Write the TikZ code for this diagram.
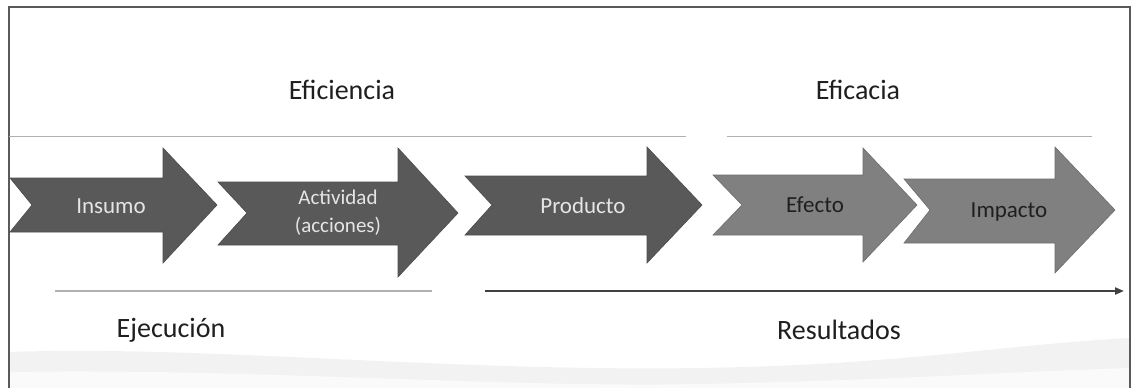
\documentclass[tikz,border=0pt]{standalone}
\usepackage{fontspec}
\setmainfont{Carlito}
\usetikzlibrary{arrows.meta}
\definecolor{darkfill}{HTML}{595959}
\definecolor{lightfill}{HTML}{808080}
\definecolor{framecol}{HTML}{5A5A5A}
\definecolor{rulecol}{HTML}{B0B0B0}
\tikzset{
  darkarrow/.style={fill=darkfill, draw=darkfill!85!black, line width=0.6pt},
  lightarrow/.style={fill=lightfill, draw=lightfill!85!black, line width=0.6pt},
  darklabel/.style={text=white!90!black, font=\fontsize{23}{26}\selectfont, align=center, inner sep=0pt},
  lightlabel/.style={text=black!88, font=\fontsize{23}{26}\selectfont, align=center, inner sep=0pt},
  headlabel/.style={text=black!88, font=\fontsize{28}{32}\selectfont, inner sep=0pt},
  thinrule/.style={draw=rulecol, line width=1pt},
  midrule/.style={draw=rulecol, line width=2pt},
  resrule/.style={draw=black!75, line width=2pt, -{Triangle[length=9pt,width=7pt]}}
}
\begin{document}
\begin{tikzpicture}[x=1pt,y=-1pt]
\useasboundingbox (0,0) rectangle (1133,388);
% background swoosh
\fill[black!5] (10,388) -- (10,352) .. controls (200,345) and (450,372) .. (700,368)
  .. controls (900,365) and (1000,345) .. (1130,338) -- (1130,388) -- cycle;
\fill[black!2] (10,388) -- (10,372) .. controls (250,368) and (500,388) .. (700,384)
  .. controls (900,380) and (1000,372) .. (1130,368) -- (1130,388) -- cycle;
% frame
\draw[framecol, line width=1.5pt] (9,388) -- (9,7) -- (1130,7) -- (1130,388);
% top rules
\coordinate (r1a) at (9,136); \coordinate (r1b) at (686,136);
\coordinate (r2a) at (727,136); \coordinate (r2b) at (1092,136);
\draw[thinrule] (r1a) -- (r1b);
\draw[thinrule] (r2a) -- (r2b);
% headings
\node[headlabel] (eficiencia) at (342,90) {Eficiencia};
\node[headlabel] (eficacia) at (858,90) {Eficacia};
% arrows
\draw[darkarrow] (10,178) -- (163,178) -- (163,148) -- (217,205) -- (163,263) -- (163,232) -- (10,232) -- (32,205) -- cycle;
\node[darklabel] (insumo) at (111,206) {Insumo};
\draw[darkarrow] (218,182) -- (398,182) -- (398,148) -- (458,213) -- (398,277) -- (398,245) -- (218,245) -- (247,213) -- cycle;
\node[darklabel, font=\fontsize{21}{28}\selectfont] (actividad) at (338,213) {Actividad\\(acciones)};
\draw[darkarrow] (465,176) -- (647,176) -- (647,147) -- (702,205) -- (647,263) -- (647,235) -- (465,235) -- (492,205) -- cycle;
\node[darklabel] (producto) at (583,206) {Producto};
\draw[lightarrow] (713,175) -- (863,175) -- (863,148) -- (917,205) -- (863,262) -- (863,235) -- (713,235) -- (742,205) -- cycle;
\node[lightlabel] (efecto) at (815,205) {Efecto};
\draw[lightarrow] (904,179) -- (1055,179) -- (1055,147) -- (1115,210) -- (1055,273) -- (1055,243) -- (904,243) -- (930,210) -- cycle;
\node[lightlabel] (impacto) at (1009,212) {Impacto};
% bottom rules
\coordinate (e1) at (55,291); \coordinate (e2) at (432,291);
\draw[midrule] (e1) -- (e2);
\coordinate (s1) at (485,291); \coordinate (s2) at (1124,291);
\draw[resrule] (s1) -- (s2);
\node[headlabel] (ejecucion) at (171,330) {Ejecución};
\node[headlabel] (resultados) at (839,330) {Resultados};
\end{tikzpicture}
\end{document}
